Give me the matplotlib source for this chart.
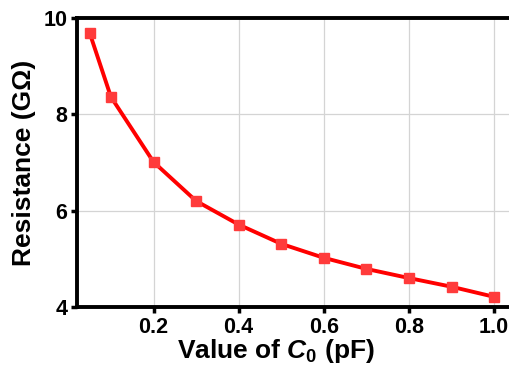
import numpy as np
import matplotlib.pyplot as plt

plt.rcParams['font.family'] = ['Liberation Sans', 'DejaVu Sans']
plt.rcParams['font.weight'] = 'bold'
plt.rcParams['mathtext.fontset'] = 'custom'
plt.rcParams['mathtext.it'] = 'Liberation Sans:italic:bold'
plt.rcParams['mathtext.rm'] = 'Liberation Sans:bold'

c0 = [0.05, 0.1, 0.2, 0.3, 0.4, 0.5, 0.6, 0.7, 0.8, 0.9, 1.0]
resistance = [9.69, 8.36, 7.01, 6.2, 5.71, 5.31, 5.02, 4.79, 4.6, 4.42, 4.21]

fig = plt.figure(figsize=(5.09, 3.65), dpi=100)
ax = fig.add_axes([0.151, 0.159, 0.87, 0.792])

ax.plot(c0, resistance, color='#ff0000', lw=2.8, zorder=3)
ax.plot(c0, resistance, 's', color='#ff3b3b', ms=6.5, zorder=4, lw=0)

ax.set_xlim(0.02, 1.06)
ax.set_ylim(4, 10)
ax.set_xticks([0.2, 0.4, 0.6, 0.8, 1.0])
ax.set_yticks([4, 6, 8, 10])
ax.grid(True, color='#d4d4d4', lw=0.9)
ax.set_axisbelow(True)

for s in ax.spines.values():
    s.set_linewidth(2.8)
ax.spines['right'].set_visible(False)
ax.tick_params(width=2.5, length=4, labelsize=15.5, direction='out', pad=3)
for lab in ax.get_xticklabels() + ax.get_yticklabels():
    lab.set_fontweight('bold')

ax.set_xlabel(r'Value of $C_0$ (pF)', fontsize=19, fontweight='bold')
ax.xaxis.set_label_coords(0.45, -0.105, transform=ax.transAxes)
ax.xaxis.label.set_va('top')
ax.set_ylabel('Resistance (G\u03a9)', fontsize=19, fontweight='bold', labelpad=5)

fig.savefig('out.png', dpi=100)
